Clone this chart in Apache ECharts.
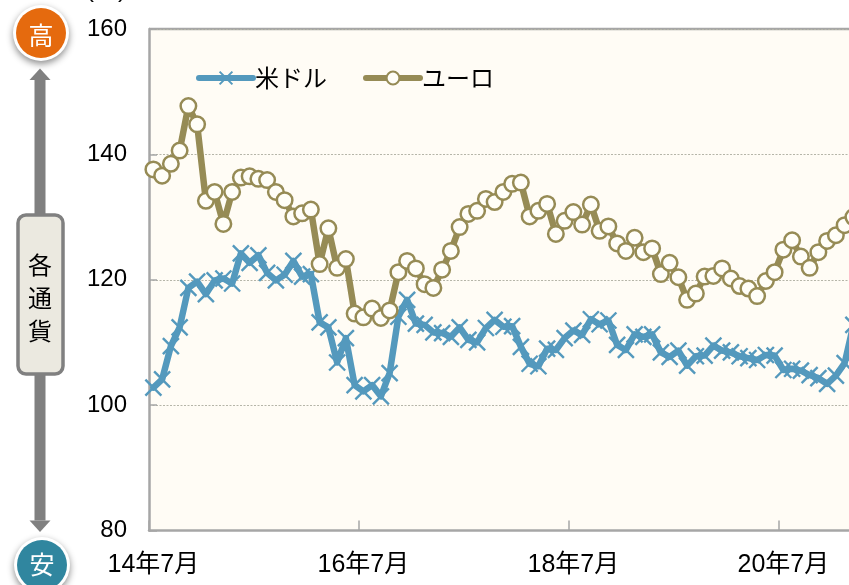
<!DOCTYPE html>
<html><head><meta charset="utf-8">
<style>html,body{margin:0;padding:0;background:#fff;overflow:hidden}#c{width:849px;height:585px}</style>
<script src="https://cdn.jsdelivr.net/npm/echarts@6/dist/echarts.min.js"></script>
</head><body><div id="c"></div>
<script>
const usd=[102.8,104.1,109.4,112.4,118.7,119.7,117.7,119.9,120.2,119.4,124.2,122.7,123.9,121.1,119.9,120.8,123,120.5,120.9,113.2,112.4,106.8,110.7,103.2,102.2,103.2,101.4,105.1,114.1,116.8,113,112.8,111.6,111.5,110.9,112.4,110.4,110,112.3,113.6,112.5,112.6,109.3,106.6,106.2,109,108.8,110.7,111.9,111.2,113.7,112.9,113.5,109.6,108.8,111.3,110.9,111.3,108.4,107.7,108.7,106.3,107.8,107.9,109.5,108.7,108.4,107.8,107.5,107.2,108,107.9,105.6,105.8,105.5,104.8,104.3,103.4,104.7,106.7,112.8];
const eur=[137.6,136.6,138.5,140.6,147.7,144.8,132.6,134,128.9,134,136.3,136.5,136.1,135.9,134,132.7,130.1,130.6,131.2,122.5,128.2,121.9,123.3,114.6,114,115.4,113.9,115.1,121.2,123,121.8,119.3,118.7,121.6,124.6,128.4,130.5,131,132.9,132.4,134,135.3,135.5,130.1,131,132.1,127.3,129.4,130.8,128.8,132,127.8,128.5,125.8,124.6,126.7,124.4,125,120.9,122.7,120.4,116.8,117.8,120.5,120.6,121.8,120.2,119,118.6,117.4,119.8,121.2,124.8,126.3,123.7,121.9,124.4,126.2,127.1,128.7,130];
const startYear=14,startMonth=7;
const categories=usd.map((_,i)=>{const m=startMonth-1+i;return (startYear+Math.floor(m/12))+'年'+(m%12+1)+'月';});
const seriesNames=['米ドル','ユーロ'];
const yMin=80,yMax=160,yStep=20;
const xStep=24;
const topNote='（2014年7月末～2021年3月末）';
const unit='(円)';
const sideLabel=['各','通','貨'];
const FF='"Liberation Sans","Noto Sans CJK JP",sans-serif';
const JP='"Noto Sans CJK JP",sans-serif';
const GRID='#b5b5a8', FRAME='#a6a6a6', BLUE='#5499bd', OLIVE='#968b55', ARROW='#808080';
const chart=echarts.init(document.getElementById('c'),null,{renderer:'canvas'});
const crossPath='path://M0 0L10 10M10 0L0 10';
function arrow(x,y1,y2,dir){
  const hw=10.5,hl=11.5;
  return [
    {type:'rect',shape:{x:x-5.5,y:Math.min(y1,y2),width:11,height:Math.abs(y2-y1)},style:{fill:ARROW}},
    {type:'polygon',shape:{points:[[x-hw,y1],[x+hw,y1],[x,y1+dir*hl]]},style:{fill:ARROW}}
  ];
}
const circle=(cx,cy,fill,t,ty)=>[
  {type:'circle',shape:{cx:cx,cy:cy,r:28},style:{fill:'#fff',shadowBlur:7,shadowColor:'rgba(0,0,0,.45)',shadowOffsetY:3}},
  {type:'circle',shape:{cx:cx,cy:cy,r:25},style:{fill:fill}},
  {type:'text',x:cx,y:ty,style:{text:t,fill:'#fff',font:'25px '+JP,align:'center',verticalAlign:'middle'}}
];
chart.setOption({
  animation:false,
  backgroundColor:'#fff',
  textStyle:{fontFamily:FF},
  grid:{left:149,top:29,width:708.75,height:501.5,outerBoundsMode:'none',backgroundColor:'#fffcf5',show:true,borderWidth:0,containLabel:false},
  legend:{left:191,top:61,itemGap:36,itemWidth:54,itemHeight:16,selectedMode:false,
    data:seriesNames,lineStyle:{width:6,cap:'round'},textStyle:{fontSize:24,color:'#000',fontFamily:JP,padding:[0,0,0,-3]}},
  xAxis:{type:'category',data:categories,boundaryGap:true,
    axisLine:{lineStyle:{color:FRAME,width:2.5},onZero:false},
    axisTick:{show:true,inside:true,length:10,interval:(i)=>i%xStep===0,lineStyle:{color:FRAME,width:1.5}},
    axisLabel:{interval:(i)=>i%xStep===0,fontSize:25,color:'#000',margin:22,fontFamily:FF,hideOverlap:false},
    splitLine:{show:false}},
  yAxis:{type:'value',min:yMin,max:yMax,interval:yStep,
    axisLine:{show:true,lineStyle:{color:FRAME,width:2.5}},
    axisTick:{show:true,inside:true,length:8,lineStyle:{color:FRAME,width:1.5}},
    axisLabel:{fontSize:24,color:'#000',margin:22,fontFamily:FF,padding:[2,0,0,0]},
    splitLine:{show:true,lineStyle:{color:GRID,type:[2,1.5],width:1}}},
  series:[
    {name:seriesNames[0],type:'line',data:usd,smooth:false,clip:true,
     lineStyle:{color:BLUE,width:6.5,cap:'round',join:'round'},
     symbol:crossPath,symbolSize:16,showSymbol:true,showAllSymbol:true,
     itemStyle:{color:BLUE,borderColor:BLUE,borderWidth:2.4}},
    {name:seriesNames[1],type:'line',data:eur,smooth:false,clip:true,z:3,
     lineStyle:{color:OLIVE,width:6.5,cap:'round',join:'round'},
     symbol:'circle',symbolSize:15.5,showSymbol:true,showAllSymbol:true,
     itemStyle:{color:'#fffef8',borderColor:OLIVE,borderWidth:2.5}}
  ],
  graphic:{elements:[
    {type:'rect',shape:{x:149,y:29,width:700,height:0},style:{stroke:FRAME,lineWidth:2.5}},
    ...arrow(40,80,215,-1),
    ...arrow(40,520.5,375,1),
    {type:'rect',shape:{x:18,y:215,width:45,height:159,r:8},style:{fill:'#ebe9e0',stroke:ARROW,lineWidth:3.5}},
    ...sideLabel.map((s,i)=>({type:'text',x:40,y:265+i*33,style:{text:s,fill:'#000',font:'24px '+JP,align:'center',verticalAlign:'middle'}})),
    ...circle(41,33,'#e56a0e','高',35),
    ...circle(42,565,'#30869f','安',564),
    {type:'text',x:106,y:-10,style:{text:unit,fill:'#000',font:'24px '+FF,align:'center',verticalAlign:'middle'}},
    {type:'text',x:475,y:-10,style:{text:topNote,fill:'#000',font:'24px '+FF,align:'center',verticalAlign:'middle'}}
  ]}
});
</script></body></html>
